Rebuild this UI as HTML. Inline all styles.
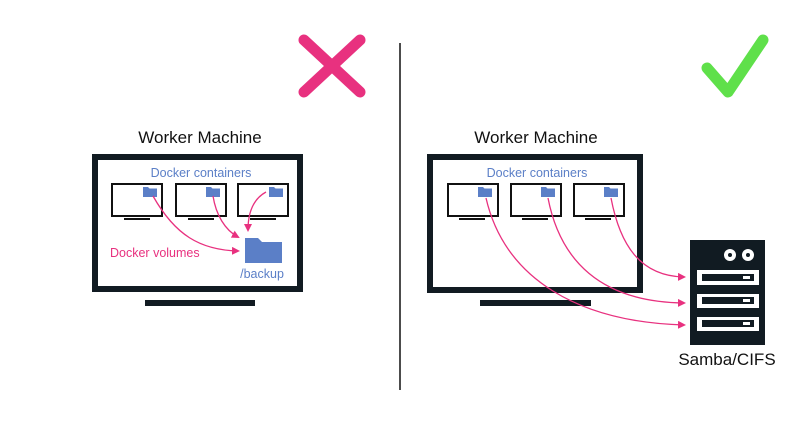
<!DOCTYPE html>
<html><head><meta charset="utf-8"><style>
html,body{margin:0;padding:0;background:#fff;}
svg{display:block;font-family:"Liberation Sans",sans-serif;}
</style></head><body>
<svg width="800" height="435" viewBox="0 0 800 435" xmlns="http://www.w3.org/2000/svg">
<defs>
<marker id="ah" markerWidth="8" markerHeight="8" refX="6" refY="4" orient="auto" markerUnits="userSpaceOnUse">
<path d="M0,0 L8,4 L0,8 Z" fill="#e8317f"/></marker>
<g id="folder"><path d="M0,1 h5 l1.5,1.5 h7.5 v8.5 h-14 z" fill="#5b7fc7"/></g>
</defs>
<line x1="400" y1="43" x2="400" y2="390" stroke="#111" stroke-width="1.5"/>
<!-- X -->
<g stroke="#e8317f" stroke-width="11" stroke-linecap="round">
<line x1="304" y1="40" x2="360" y2="92"/><line x1="360" y1="40" x2="304" y2="92"/></g>
<!-- check -->
<polyline points="707,68 728,92 763,40" fill="none" stroke="#5fe04a" stroke-width="11" stroke-linecap="round" stroke-linejoin="round"/>

<!-- LEFT -->
<text x="200" y="143" font-size="17" text-anchor="middle" fill="#111">Worker Machine</text>
<rect x="95" y="157" width="205" height="132" fill="#fff" stroke="#111b22" stroke-width="6"/>
<rect x="145" y="300" width="110" height="6" fill="#111b22"/>
<text x="201" y="177" font-size="12.5" text-anchor="middle" fill="#5b7fc7">Docker containers</text>
<g fill="#fff" stroke="#111" stroke-width="2">
<rect x="112" y="184" width="50" height="32"/><rect x="176" y="184" width="50" height="32"/><rect x="238" y="184" width="50" height="32"/></g>
<g fill="#111"><rect x="124" y="218" width="26" height="2"/><rect x="188" y="218" width="26" height="2"/><rect x="250" y="218" width="26" height="2"/></g>
<use href="#folder" x="143" y="186"/><use href="#folder" x="206" y="186"/><use href="#folder" x="269" y="186"/>
<path d="M245,238 h13 l4,4 h20 v21 h-37 z" fill="#5b7fc7"/>
<text x="262" y="278" font-size="12.5" text-anchor="middle" fill="#5b7fc7">/backup</text>
<text x="110" y="257" font-size="12.5" fill="#e8317f">Docker volumes</text>
<g fill="none" stroke="#e8317f" stroke-width="1.3" marker-end="url(#ah)">
<path d="M153,196 C175,235 200,250 238,251"/>
<path d="M213,196 C216,215 225,230 238,237"/>
<path d="M266,192 C255,198 248,210 248,230"/>
</g>

<!-- RIGHT -->
<text x="536" y="143" font-size="17" text-anchor="middle" fill="#111">Worker Machine</text>
<rect x="430" y="157" width="210" height="133" fill="#fff" stroke="#111b22" stroke-width="6"/>
<rect x="480" y="300" width="111" height="6" fill="#111b22"/>
<text x="537" y="177" font-size="12.5" text-anchor="middle" fill="#5b7fc7">Docker containers</text>
<g fill="#fff" stroke="#111" stroke-width="2">
<rect x="448" y="184" width="50" height="32"/><rect x="511" y="184" width="50" height="32"/><rect x="574" y="184" width="50" height="32"/></g>
<g fill="#111"><rect x="459" y="218" width="26" height="2"/><rect x="522" y="218" width="26" height="2"/><rect x="585" y="218" width="26" height="2"/></g>
<use href="#folder" x="478" y="186"/><use href="#folder" x="541" y="186"/><use href="#folder" x="604" y="186"/>
<g fill="none" stroke="#e8317f" stroke-width="1.3" marker-end="url(#ah)">
<path d="M486,198 C505,280 580,322 684,325"/>
<path d="M548,198 C560,260 600,302 684,303"/>
<path d="M611,198 C620,245 640,276 684,277"/>
</g>
<rect x="690" y="240" width="75" height="105" fill="#111b22"/>
<circle cx="730" cy="255" r="6" fill="#fff"/><circle cx="730" cy="255" r="2" fill="#111b22"/>
<circle cx="748" cy="255" r="6" fill="#fff"/><circle cx="748" cy="255" r="2" fill="#111b22"/>
<g fill="#fff"><rect x="697" y="270" width="62" height="15"/><rect x="697" y="294" width="62" height="14"/><rect x="697" y="317" width="62" height="14"/></g>
<g fill="#111b22"><rect x="702" y="274" width="52" height="7"/><rect x="702" y="297" width="52" height="7"/><rect x="702" y="320" width="52" height="7"/></g>
<g fill="#fff"><rect x="743" y="276" width="7" height="3"/><rect x="743" y="299" width="7" height="3"/><rect x="743" y="322" width="7" height="3"/></g>
<text x="727" y="365" font-size="17" text-anchor="middle" fill="#111">Samba/CIFS</text>
</svg>
</body></html>
